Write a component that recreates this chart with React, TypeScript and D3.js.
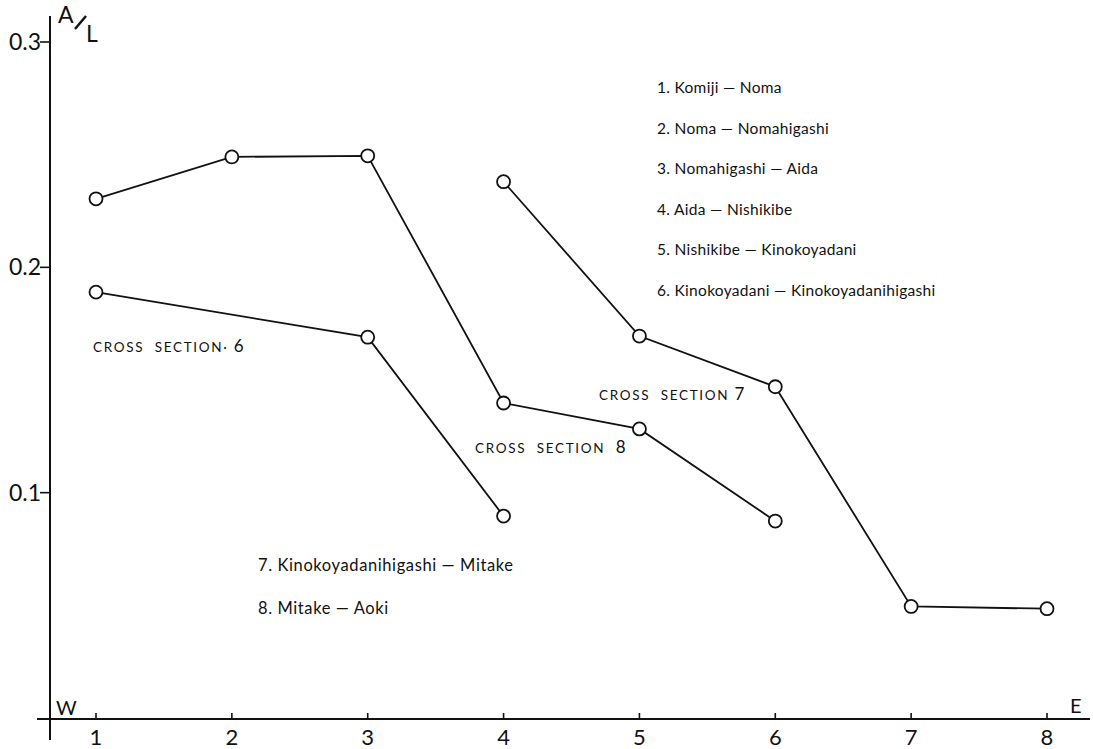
import React from "react";
import * as d3 from "d3";

// Section numbers along the W–E profile
const sections = [1, 2, 3, 4, 5, 6, 7, 8];
const yTicks = [0.1, 0.2, 0.3];

// A/L ratio per cross section
const crossSection6 = [
  { s: 1, v: 0.189 },
  { s: 3, v: 0.169 },
  { s: 4, v: 0.0896 },
];
const crossSection8 = [
  { s: 1, v: 0.2304 },
  { s: 2, v: 0.249 },
  { s: 3, v: 0.2495 },
  { s: 4, v: 0.1398 },
  { s: 5, v: 0.1283 },
  { s: 6, v: 0.0874 },
];
const crossSection7 = [
  { s: 4, v: 0.238 },
  { s: 5, v: 0.1695 },
  { s: 6, v: 0.147 },
  { s: 7, v: 0.0495 },
  { s: 8, v: 0.0485 },
];

const legendTop = [
  "1. Komiji — Noma",
  "2. Noma — Nomahigashi",
  "3. Nomahigashi — Aida",
  "4. Aida  — Nishikibe",
  "5. Nishikibe — Kinokoyadani",
  "6. Kinokoyadani — Kinokoyadanihigashi",
];
const legendBottom = ["7. Kinokoyadanihigashi — Mitake", "8. Mitake — Aoki"];

const FONT = "Lato, 'Noto Sans', sans-serif";

export default function App() {
  const x = d3.scaleLinear().domain([1, 8]).range([96, 1047]);
  const y = d3.scaleLinear().domain([0, 0.3]).range([718, 42]);
  const line = d3
    .line<{ s: number; v: number }>()
    .x((d) => x(d.s))
    .y((d) => y(d.v));

  const series = [crossSection6, crossSection8, crossSection7];

  return (
    <svg
      width={1093}
      height={749}
      style={{ position: "absolute", left: 0, top: 0, background: "#fff" }}
      fontFamily={FONT}
    >
      {/* axes */}
      <line x1={50} y1={16} x2={50} y2={740} stroke="#111" strokeWidth={2} />
      <line x1={37} y1={y(0) + 1} x2={1090} y2={y(0) + 1} stroke="#111" strokeWidth={2} />
      {yTicks.map((t) => (
        <g key={t}>
          <line x1={40} x2={50} y1={y(t)} y2={y(t)} stroke="#111" strokeWidth={1.6} />
          <text x={41} y={y(t) + 8} fontSize={23} textAnchor="end" fill="#111">
            {t.toFixed(1)}
          </text>
        </g>
      ))}
      {sections.map((s) => (
        <g key={s}>
          <line x1={x(s)} x2={x(s)} y1={y(0) - 5} y2={y(0)} stroke="#111" strokeWidth={1.6} />
          <text x={x(s)} y={y(0) + 27} fontSize={22} textAnchor="middle" fill="#111">
            {s}
          </text>
        </g>
      ))}

      {/* axis titles */}
      <text x={58} y={23} fontSize={23} fill="#111">A</text>
      <line x1={75} y1={29} x2={86} y2={16} stroke="#111" strokeWidth={2.5} />
      <text x={86} y={42} fontSize={23} fill="#111">L</text>
      <text x={56} y={715} fontSize={20} fill="#111">W</text>
      <text x={1070} y={713} fontSize={20} fill="#111">E</text>

      {/* series */}
      {series.map((d, i) => (
        <g key={i}>
          <path d={line(d) ?? ""} fill="none" stroke="#111" strokeWidth={1.8} />
          {d.map((p) => (
            <circle
              key={p.s}
              cx={x(p.s)}
              cy={y(p.v)}
              r={6.5}
              fill="#fff"
              stroke="#111"
              strokeWidth={1.8}
            />
          ))}
        </g>
      ))}

      {/* series labels */}
      <text x={93} y={352} fontSize={13.5} letterSpacing={1.7} fill="#111">
        CROSS{"\u00a0\u00a0"}SECTION·{"\u00a0"}
        <tspan fontSize={17}>6</tspan>
      </text>
      <text x={599} y={400} fontSize={13.5} letterSpacing={1.7} fill="#111">
        CROSS{"\u00a0\u00a0"}SECTION{"\u00a0"}
        <tspan fontSize={17}>7</tspan>
      </text>
      <text x={475} y={453} fontSize={13.5} letterSpacing={1.7} fill="#111">
        CROSS{"\u00a0\u00a0"}SECTION{"\u00a0\u00a0"}
        <tspan fontSize={17}>8</tspan>
      </text>

      {/* legend */}
      {legendTop.map((t, i) => (
        <text key={t} x={657} y={93 + i * 40.6} fontSize={15.5} letterSpacing={0.3} fill="#111">
          {t}
        </text>
      ))}
      {legendBottom.map((t, i) => (
        <text key={t} x={258} y={571 + i * 43} fontSize={16.5} letterSpacing={0.6} fill="#111">
          {t}
        </text>
      ))}
    </svg>
  );
}
